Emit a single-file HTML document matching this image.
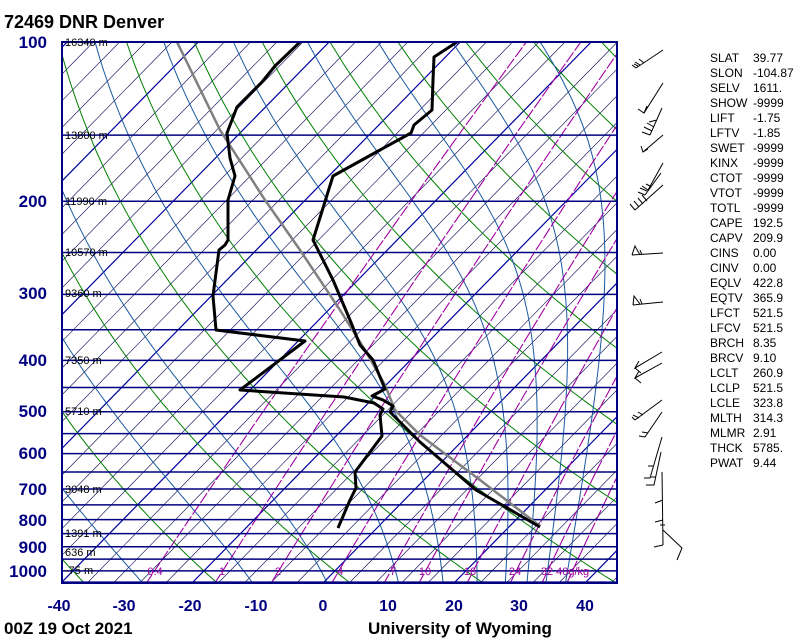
<!DOCTYPE html>
<html><head><meta charset="utf-8"><style>
html,body{margin:0;padding:0;background:#fff;}
body{width:800px;height:640px;overflow:hidden;position:relative;font-family:"Liberation Sans",sans-serif;}
svg{position:absolute;left:0;top:0;}
</style></head><body>
<svg id="s" width="800" height="640" viewBox="0 0 800 640" xmlns="http://www.w3.org/2000/svg">
<defs><clipPath id="c"><rect x="62" y="42" width="555" height="541"/></clipPath></defs>
<rect width="800" height="640" fill="#fff"/>
<g id="bg" clip-path="url(#c)"></g>
<g clip-path="url(#c)">
<polyline fill="none" stroke="#808080" stroke-width="2.5" points="177,42 220,130 265,200 300,250 340,310 365,350 385,385 395,410 420,435 480,480 540,526"/>
<polyline fill="none" stroke="#000" stroke-width="3" stroke-linejoin="round" points="300,42 275,66 262,82 237,107 227,133 230,158 235,176 228,200 228,240 225,245 219,250 213,296 216,330 305,341 240,390 344,397 374,403 383,409 380,415 382,436 355,472 356,488 350,500 338,528"/>
<polyline fill="none" stroke="#000" stroke-width="3" stroke-linejoin="round" points="457,42 434,57 433,80 432,110 414,125 411,133 380,150 333,176 313,240 333,280 350,320 360,345 373,360 385,389 372,396 383,400 393,406 390,412 420,442 476,490 540,527"/>
</g>
<rect x="62" y="42" width="555" height="541" fill="none" stroke="#000080" stroke-width="2"/>
<g font-size="11" fill="#000">
<text x="65" y="46">16340 m</text><text x="65" y="139">13800 m</text><text x="65" y="205">11990 m</text><text x="65" y="256">10570 m</text><text x="65" y="297">9360 m</text><text x="65" y="364">7350 m</text><text x="65" y="415">5710 m</text><text x="65" y="493">3048 m</text><text x="65" y="537">1391 m</text><text x="65" y="556">636 m</text><text x="65" y="574">-75 m</text>
</g>
<g font-size="11" fill="#a000a0" text-anchor="middle">
<text x="155" y="575">0.4</text><text x="222" y="575">1</text><text x="278" y="575">2</text><text x="340" y="575">4</text><text x="393" y="575">7</text><text x="425" y="575">10</text><text x="470" y="575">16</text><text x="515" y="575">24</text><text x="565" y="575">32 40g/kg</text>
</g>
<g font-size="17" font-weight="bold" fill="#000080" text-anchor="end">
<text x="47" y="48">100</text><text x="47" y="207">200</text><text x="47" y="299">300</text><text x="47" y="366">400</text><text x="47" y="417">500</text><text x="47" y="459">600</text><text x="47" y="495">700</text><text x="47" y="526">800</text><text x="47" y="553">900</text><text x="47" y="577">1000</text>
</g>
<g font-size="16" font-weight="bold" fill="#000080" text-anchor="middle">
<text x="59" y="611">-40</text><text x="124" y="611">-30</text><text x="190" y="611">-20</text><text x="256" y="611">-10</text><text x="323" y="611">0</text><text x="388" y="611">10</text><text x="454" y="611">20</text><text x="519" y="611">30</text><text x="585" y="611">40</text>
</g>
<text x="4" y="28" font-size="18" font-weight="bold">72469 DNR Denver</text>
<text x="4" y="634" font-size="17" font-weight="bold">00Z 19 Oct 2021</text>
<text x="368" y="634" font-size="17" font-weight="bold">University of Wyoming</text>
<g font-size="12" fill="#000">
<text x="710" y="62">SLAT</text><text x="753" y="62">39.77</text>
<text x="710" y="77">SLON</text><text x="753" y="77">-104.87</text>
<text x="710" y="92">SELV</text><text x="753" y="92">1611.</text>
<text x="710" y="107">SHOW</text><text x="753" y="107">-9999</text>
<text x="710" y="122">LIFT</text><text x="753" y="122">-1.75</text>
<text x="710" y="137">LFTV</text><text x="753" y="137">-1.85</text>
<text x="710" y="152">SWET</text><text x="753" y="152">-9999</text>
<text x="710" y="167">KINX</text><text x="753" y="167">-9999</text>
<text x="710" y="182">CTOT</text><text x="753" y="182">-9999</text>
<text x="710" y="197">VTOT</text><text x="753" y="197">-9999</text>
<text x="710" y="212">TOTL</text><text x="753" y="212">-9999</text>
<text x="710" y="227">CAPE</text><text x="753" y="227">192.5</text>
<text x="710" y="242">CAPV</text><text x="753" y="242">209.9</text>
<text x="710" y="257">CINS</text><text x="753" y="257">0.00</text>
<text x="710" y="272">CINV</text><text x="753" y="272">0.00</text>
<text x="710" y="287">EQLV</text><text x="753" y="287">422.8</text>
<text x="710" y="302">EQTV</text><text x="753" y="302">365.9</text>
<text x="710" y="317">LFCT</text><text x="753" y="317">521.5</text>
<text x="710" y="332">LFCV</text><text x="753" y="332">521.5</text>
<text x="710" y="347">BRCH</text><text x="753" y="347">8.35</text>
<text x="710" y="362">BRCV</text><text x="753" y="362">9.10</text>
<text x="710" y="377">LCLT</text><text x="753" y="377">260.9</text>
<text x="710" y="392">LCLP</text><text x="753" y="392">521.5</text>
<text x="710" y="407">LCLE</text><text x="753" y="407">323.8</text>
<text x="710" y="422">MLTH</text><text x="753" y="422">314.3</text>
<text x="710" y="437">MLMR</text><text x="753" y="437">2.91</text>
<text x="710" y="452">THCK</text><text x="753" y="452">5785.</text>
<text x="710" y="467">PWAT</text><text x="753" y="467">9.44</text>
</g>
<g fill="none" stroke="#000" stroke-width="1">
<path d="M663,50 L636,68 M636,68 l-4,-3 M640,65 l-5,-3 M644,63 l-5,-4 M638,66 l-4,-2"/>
<path d="M663,83 L644,113 l-6,-4 M644,113 l3,-7"/>
<path d="M662,108 L650,135 M650,135 l-8,-3 M652,131 l-8,-4 M654,127 l-7,-4 M657,120 l-8,2"/>
<path d="M663,135 L643,152 l-2,-6 M643,152 l5,-3"/>
<path d="M663,163 L648,190 M648,190 l-6,-4 M650,186 l-4,-2 M661,173 L645,195 M645,195 l-7,-3 M647,191 l-7,-3 M663,185 L635,210 M635,210 l-5,-6 M639,207 l-5,-6 M643,204 l-5,-6 M647,201 l-5,-6"/>
<path d="M632,255 L663,253 M632,255 L635,246 L640,255 M642,255 l-2,-5"/>
<path d="M633,305 L663,302 M633,305 L634,296 L640,304 M642,304 l-2,-5"/>
<path d="M662,352 L635,368 l4,-7 M635,368 l6,5 M662,363 L635,378 l4,-7 M635,378 l6,5"/>
<path d="M662,400 L635,420 M635,420 l-3,-3 M639,418 l-6,-3 M643,415 l-5,-3 M662,412 L645,437 l-6,-1 M648,433 l-6,-1"/>
<path d="M662,437 L650,478 l-6,0 M653,466 l-5,0 M661,452 L654,485 l-8,0 M656,477 l-5,0"/>
<path d="M662,472 L663,545 M663,500 l-8,3 M663,520 l-8,2 M663,545 l-9,2 M663,530 L682,548 L677,560 M660,525 l5,0"/>
</g>
<script>
(function(){
var ns="http://www.w3.org/2000/svg",g=document.getElementById("bg");
function Y(p){return 42+229.7*Math.log(p/100);}
function X(T,p){return 323+6.55*T+0.98*(583-Y(p));}
function add(tag,a){var e=document.createElementNS(ns,tag);for(var k in a)e.setAttribute(k,a[k]);g.appendChild(e);return e;}
function poly(pts,st,w,dash){var s=pts.map(function(q){return q[0].toFixed(1)+","+q[1].toFixed(1);}).join(" ");var a={points:s,fill:"none",stroke:st,"stroke-width":w};if(dash)a["stroke-dasharray"]=dash;add("polyline",a);}
for(var T=-200;T<=60;T+=4){var x0=323+6.55*T;var thick=Math.abs(T%20)<0.1;add("line",{x1:x0,y1:583,x2:x0+0.98*541,y2:42,stroke:thick?"#0000a0":"#000050","stroke-width":thick?1.2:0.6});}
for(var th=-100;th<=200;th+=20){var pts=[];for(var p=1060;p>=95;p-=10){var Tk=(th+273.15)*Math.pow(p/1000,0.2857);pts.push([X(Tk-273.15,p),Y(p)]);}poly(pts,"#008000",1);}
function es(t){return 6.112*Math.exp(17.67*t/(t+243.5));}
var starts=[-44,-27.6,-10.8,0.6,11.5,18.3,23.5,27.8,31.1,34,37];
starts.forEach(function(t0){var Tk=t0+273.15,p=1053,pts=[[X(t0,p),Y(p)]];while(p>100){var dp=-5,tc=Tk-273.15,e=es(tc),rs=0.622*e/(p-e),L=2.5e6,Rd=287,cp=1004;var dTdp=(Rd*Tk+L*rs)/(p*(cp+L*L*rs*0.622/(Rd*Tk*Tk)));Tk+=dTdp*dp;p+=dp;pts.push([X(Tk-273.15,p),Y(p)]);}poly(pts,"#1a5aa0",1);});
[0.4,1,2,4,7,10,16,24,32,40].forEach(function(w){var pts=[];for(var p=1060;p>=95;p-=15){var W=w/1000,e=W*p/(0.622+W),l=Math.log(e/6.112),td=243.5*l/(17.67-l);pts.push([X(td,p),Y(p)]);}poly(pts,"#a000a0",1.1,"12,2");});
for(var p=100;p<=1050;p+=50){var y=Y(p);add("line",{x1:62,y1:y,x2:617,y2:y,stroke:"#000080","stroke-width":1.5});}
})();
</script>
</svg>
</body></html>
